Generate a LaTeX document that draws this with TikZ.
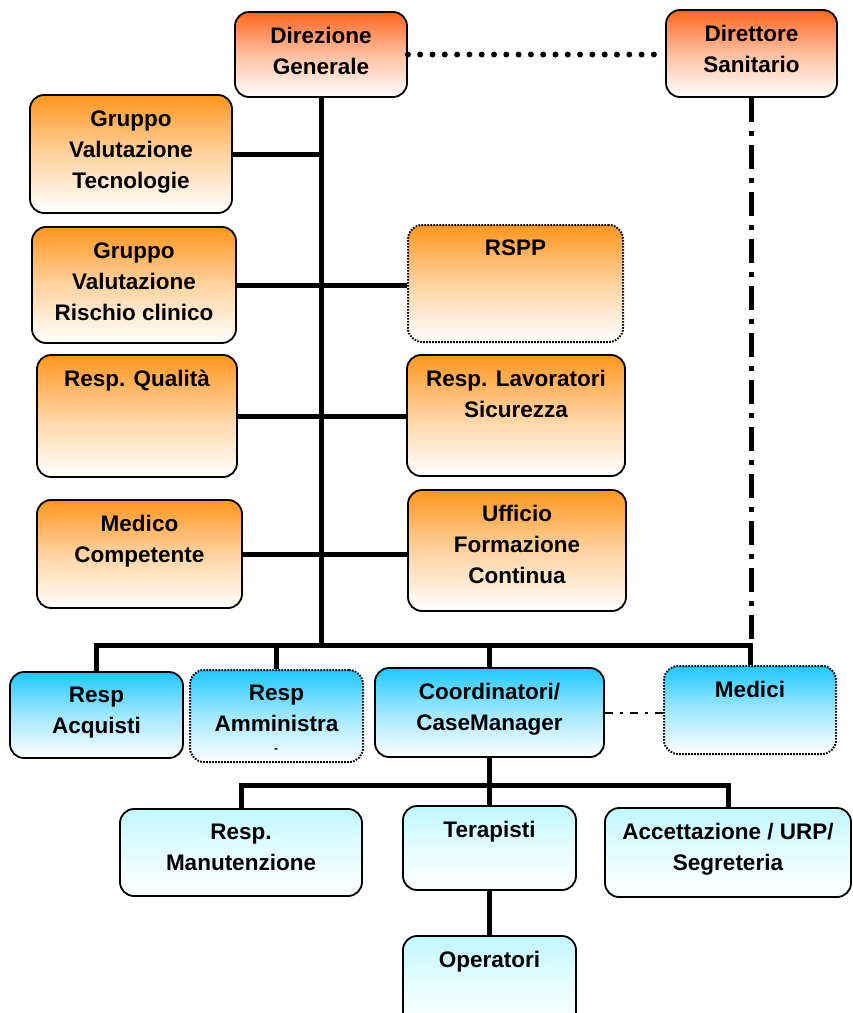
\documentclass[tikz,border=0pt]{standalone}
\usepackage{fontspec}
\setmainfont{Liberation Sans}
\usepackage{tikz}
\usetikzlibrary{positioning}
\definecolor{dirtop}{RGB}{255,102,30}
\definecolor{oratop}{RGB}{255,150,30}
\definecolor{bluetop}{RGB}{30,200,255}
\definecolor{cyantop}{RGB}{192,248,255}
\tikzset{
  box/.style={draw=black, line width=1.8pt, rounded corners=14pt, inner sep=0pt, bottom color=white},
  dotbox/.style={box, line width=2pt, dash pattern=on 1.6pt off 1.4pt},
  lbl/.style={font=\bfseries\fontsize{22.5}{31}\selectfont, align=center, inner sep=0pt, anchor=north},
  conn/.style={line width=5pt},
  dashdot/.style={line width=4.5pt, dash pattern=on 24pt off 9pt on 5pt off 9pt},
  thindashdot/.style={line width=2pt, dash pattern=on 8pt off 7pt on 3pt off 7pt},
  dots/.style={line width=6pt, line cap=round, dash pattern=on 0pt off 12.3pt}
}

\begin{document}
\begin{tikzpicture}[x=1pt, y=-1pt]
\useasboundingbox (0,0) rectangle (853,1013);
\clip (0,0) rectangle (853,1013);
% boxes
\foreach \n/\xa/\ya/\xb/\yb/\c in {dg/235/12/407/97/dirtop, ds/666/10/837/97/dirtop,
    gvt/30/95/232/213/oratop, gvr/32/227/236/343/oratop, rq/37/355/237/477/oratop,
    rls/407/355/625/476/oratop, mc/37/500/242/608/oratop, ufc/408/490/626/611/oratop,
    ra/10/672/183/758/bluetop, cm/375/668/604/757/bluetop,
    rm/120/809/362/896/cyantop, ter/403/806/576/890/cyantop, acc/605/808/851/897/cyantop,
    op/403/936/576/1030/cyantop}
\node[box, top color=\c, middle color=\c!42!white, minimum width={(\xb-\xa)*1pt},
    minimum height={(\yb-\ya)*1pt}] (\n) at ({(\xa+\xb)/2},{(\ya+\yb)/2}) {};
\foreach \n/\xa/\ya/\xb/\yb/\c in {rspp/408/225/623/342/oratop,
    ram/190/670/363/762/bluetop, me/664/666/836/754/bluetop}
\node[dotbox, top color=\c, middle color=\c!42!white, minimum width={(\xb-\xa)*1pt},
    minimum height={(\yb-\ya)*1pt}] (\n) at ({(\xa+\xb)/2},{(\ya+\yb)/2}) {};
\coordinate (bus) at (321,645);
\coordinate (bus2) at (490,785);
% edges
\draw[conn] (dg.south) -- (bus);
\draw[conn] (ra.north) |- (bus) -| (me.north);
\draw[conn] (ram.north) -- (ram.north |- bus);
\draw[conn] (cm.north) -- (cm.north |- bus);
\draw[conn] (gvt.east) -- (gvt.east -| bus);
\draw[conn] (gvr.east) -- (gvr.east -| rspp.west);
\draw[conn] (rq.east) -- (rq.east -| rls.west);
\draw[conn] (mc.east) -- (mc.east -| ufc.west);
\draw[dots] (dg.east) -- (dg.east -| ds.west);
\draw[dashdot] (ds.south) -- (ds.south |- bus);
\draw[thindashdot] (cm.east) -- (cm.east -| me.west);
\draw[conn] (cm.south) -- (ter.north);
\draw[conn] (rm.north) |- (bus2) -| (acc.north);
\draw[conn] (ter.south) -- (op.north);
% labels
\foreach \n/\t in {dg/{Direzione\\Generale}, ds/{Direttore\\Sanitario},
    gvt/{Gruppo\\Valutazione\\Tecnologie}, gvr/{Gruppo\\Valutazione\\Rischio clinico},
    rspp/RSPP, rq/{Resp. Qualità}, rls/{Resp. Lavoratori\\Sicurezza},
    mc/{Medico\\Competente}, ufc/{Ufficio\\Formazione\\Continua},
    ra/{Resp\\Acquisti}, ram/{Resp\\Amministra}, cm/{Coordinatori/\\CaseManager},
    me/Medici, rm/{Resp.\\Manutenzione}, ter/Terapisti,
    acc/{Accettazione / URP/\\Segreteria}, op/Operatori}
\node[lbl] (\n-t) at ([yshift=-16pt]\n.north) {\t};
\node[font=\bfseries\fontsize{12}{12}\selectfont, inner sep=0pt] (ram-c) at (276,751) {-};
\end{tikzpicture}
\end{document}
